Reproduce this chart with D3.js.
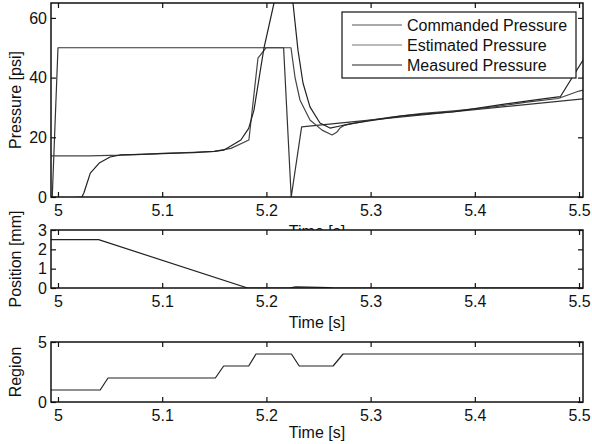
<!DOCTYPE html>
<html><head><meta charset="utf-8">
<script src="https://cdn.jsdelivr.net/npm/d3@7"></script>
<style>body{margin:0;background:#fff} svg{display:block} text{font-family:"Liberation Sans",Arial,Helvetica,sans-serif}</style>
</head><body><svg id="c" width="592" height="444"></svg>
<script>
// ---- data ----
const timeTicks = [5, 5.1, 5.2, 5.3, 5.4, 5.5];
const timeTickLabels = ["5", "5.1", "5.2", "5.3", "5.4", "5.5"];
const pressureTicks = [0, 20, 40, 60];
const positionTicks = [0, 1, 2, 3];
const regionTicks = [0, 5];
const seriesNames = ["Commanded Pressure", "Estimated Pressure", "Measured Pressure"];

const commandedT = [4.9945, 5.0, 5.2165, 5.2238, 5.2338, 5.5039];
const commandedP = [0, 50, 50, 0, 23.5, 32.9];

const estimatedT = [4.9933, 5.03, 5.06, 5.08, 5.1, 5.13, 5.15, 5.166, 5.1832, 5.1919, 5.1996, 5.2236, 5.2274, 5.2322, 5.2418, 5.2534, 5.263, 5.2678, 5.2706, 5.2754, 5.3, 5.32, 5.35, 5.38, 5.4, 5.42, 5.45, 5.48, 5.5, 5.504];
const estimatedP = [13.8, 13.8, 14, 14.3, 14.6, 15, 15.3, 16.3, 19.1, 46.5, 50, 50, 40.2, 32.5, 25.8, 22.4, 20.8, 21.8, 23.1, 24.1, 25.8, 26.8, 28, 28.9, 29.5, 30.3, 31.8, 33, 35.5, 35.8];

const measuredT = [4.9935, 5.008, 5.023, 5.025, 5.031, 5.04, 5.05, 5.06, 5.08, 5.1, 5.13, 5.15, 5.159, 5.1755, 5.183, 5.188, 5.1977, 5.2073, 5.216, 5.2255, 5.2303, 5.2351, 5.2418, 5.2514, 5.261, 5.2706, 5.28, 5.3, 5.33, 5.35, 5.38, 5.4, 5.43, 5.46, 5.482, 5.504];
const measuredP = [0, -0.4, 0, 1.5, 8, 11.5, 13.4, 14.1, 14.3, 14.5, 14.9, 15.3, 15.7, 19.1, 23, 29, 50, 65, 78, 65, 49.2, 38.2, 30.2, 24.8, 23.1, 23.8, 24.5, 25.6, 27.2, 27.8, 28.6, 29.6, 31.2, 32.6, 33.6, 46];

const positionT = [4.9933, 5.039, 5.182, 5.222, 5.228, 5.24, 5.26, 5.265, 5.5038];
const positionMM = [2.5, 2.5, 0, 0, 0.06, 0.05, 0.02, 0, 0];

const regionT = [4.9933, 5.0405, 5.048, 5.151, 5.159, 5.183, 5.190, 5.224, 5.2315, 5.264, 5.2736, 5.5038];
const regionV = [1, 1, 2, 2, 3, 3, 4, 4, 3, 3, 4, 4];

// ---- layout ----
const svg = d3.select("#c");
const L = 51, R = 583;
const x = d3.scaleLinear().domain([4.9933, 5.5038]).range([L, R]);
const FS = 16;

function zip(ts, vs) { return ts.map((t, i) => [t, vs[i]]); }

function panel(cfg) {
  const y = d3.scaleLinear().domain(cfg.ydom).range([cfg.bottom, cfg.top]);
  const g = svg.append("g");
  g.append("rect").attr("x", L).attr("y", cfg.top).attr("width", R - L).attr("height", cfg.bottom - cfg.top).attr("fill", "#fff");
  const clipId = "clip" + cfg.id;
  svg.append("clipPath").attr("id", clipId).append("rect").attr("x", L).attr("y", cfg.top).attr("width", R - L).attr("height", cfg.bottom - cfg.top);
  const lines = g.append("g").attr("clip-path", `url(#${clipId})`);
  const lg = d3.line().x(d => x(d[0])).y(d => y(d[1]));
  cfg.series.forEach(s => {
    lines.append("path").attr("d", lg(s.data)).attr("fill", "none").attr("stroke", s.color).attr("stroke-width", 1.2).attr("stroke-linejoin", "round");
  });
  const ax = d3.axisBottom(x).tickValues(timeTicks).tickFormat((d, i) => timeTickLabels[i]).tickSizeInner(-5).tickSizeOuter(0).tickPadding(8);
  const axg = g.append("g").attr("transform", `translate(0,${cfg.bottom})`).call(ax);
  const axt = g.append("g").attr("transform", `translate(0,${cfg.top})`).call(d3.axisTop(x).tickValues(timeTicks).tickFormat("").tickSizeInner(-5).tickSizeOuter(0));
  const ay = d3.axisLeft(y).tickValues(cfg.yticks).tickFormat(d3.format("d")).tickSizeInner(-5).tickSizeOuter(0).tickPadding(4);
  const ayg = g.append("g").attr("transform", `translate(${L},0)`).call(ay);
  const ayr = g.append("g").attr("transform", `translate(${R},0)`).call(d3.axisRight(y).tickValues(cfg.yticks).tickFormat("").tickSizeInner(-5).tickSizeOuter(0));
  [axg, axt, ayg, ayr].forEach(a => {
    a.select(".domain").remove();
    a.selectAll("line").attr("stroke", "#111").attr("stroke-width", 1.2);
    a.selectAll("text").attr("font-size", FS).attr("fill", "#111").style("font-family", '"Liberation Sans",Arial,sans-serif');
  });
  g.append("rect").attr("x", L).attr("y", cfg.top).attr("width", R - L).attr("height", cfg.bottom - cfg.top).attr("fill", "none").attr("stroke", "#111").attr("stroke-width", 1.5);
  g.append("text").attr("transform", `translate(21,${(cfg.top + cfg.bottom) / 2}) rotate(-90)`).attr("text-anchor", "middle").attr("font-size", FS).attr("fill", "#111").text(cfg.ylabel);
  g.append("text").attr("x", (L + R) / 2).attr("y", cfg.xlabelY).attr("text-anchor", "middle").attr("font-size", FS).attr("fill", "#111").text("Time [s]");
  return { g, y };
}

const p1 = panel({
  id: 1, top: 3, bottom: 197, ydom: [0, 65], yticks: pressureTicks, ylabel: "Pressure [psi]", xlabelY: 237,
  series: [
    { data: zip(commandedT, commandedP), color: "#333" },
    { data: zip(estimatedT, estimatedP), color: "#444" },
    { data: zip(measuredT, measuredP), color: "#222" }
  ]
});

const lgd = p1.g.append("g");
lgd.append("rect").attr("x", 342).attr("y", 12).attr("width", 234).attr("height", 66).attr("fill", "#fff").attr("stroke", "#111").attr("stroke-width", 1.2);
const legendColors = ["#555", "#777", "#222"];
seriesNames.forEach((n, i) => {
  const yy = 25 + i * 20;
  lgd.append("line").attr("x1", 352).attr("x2", 402).attr("y1", yy).attr("y2", yy).attr("stroke", legendColors[i]).attr("stroke-width", 1.2);
  lgd.append("text").attr("x", 407).attr("y", yy + 6).attr("font-size", FS).attr("fill", "#111").text(n);
});

panel({
  id: 2, top: 230, bottom: 288, ydom: [0, 3], yticks: positionTicks, ylabel: "Position [mm]", xlabelY: 328,
  series: [{ data: zip(positionT, positionMM), color: "#222" }]
});

panel({
  id: 3, top: 342, bottom: 402, ydom: [0, 5], yticks: regionTicks, ylabel: "Region", xlabelY: 438,
  series: [{ data: zip(regionT, regionV), color: "#222" }]
});
</script></body></html>
